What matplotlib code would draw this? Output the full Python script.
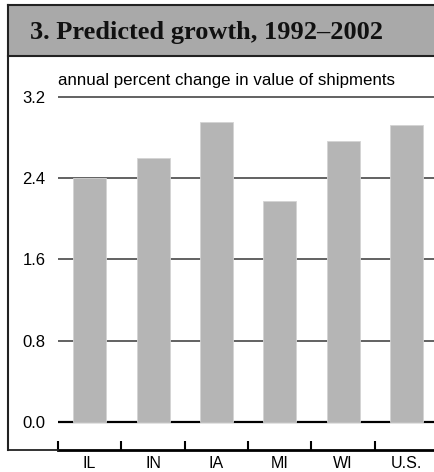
import matplotlib.pyplot as plt
from matplotlib.lines import Line2D
from matplotlib.patches import Rectangle

# data
states = ["IL", "IN", "IA", "MI", "WI", "U.S."]
growth = [2.40, 2.60, 2.95, 2.18, 2.77, 2.92]
yticks = [0.0, 0.8, 1.6, 2.4, 3.2]

W, H = 435, 472
fig = plt.figure(figsize=(W / 100, H / 100), dpi=100)
plt.rcParams['font.family'] = ['Liberation Sans', 'DejaVu Sans']

def fx(px):
    return px / W

def fy(py):
    return 1 - py / H

# plot area: x 58..435 px, y 60..450 px
ax = fig.add_axes([fx(58), fy(450), fx(435) - fx(58), fy(60) - fy(450)])
ax.set_xlim(-0.5, 5.45)
ax.set_ylim(-0.2756, 3.564)

for y in yticks:
    ax.axhline(y, color='black' if y == 0 else '#555555',
               lw=1.6 if y == 0 else 1.3, zorder=1)

ax.bar(range(len(states)), growth, width=0.52, color='#b5b5b5',
       edgecolor='#d4d4d4', linewidth=0.6, zorder=2)

for s in ['top', 'right', 'left']:
    ax.spines[s].set_visible(False)
ax.spines['bottom'].set_linewidth(2.0)

ax.set_yticks(yticks)
ax.set_yticklabels([f"{v:.1f}" for v in yticks], fontsize=12)
ax.tick_params(axis='y', length=0, pad=9)

ax.set_xticks(range(len(states)))
ax.set_xticklabels(states, fontsize=11.5)
ax.tick_params(axis='x', length=0, pad=4)
ax.set_xticks([i - 0.5 for i in range(len(states))], minor=True)
ax.tick_params(axis='x', which='minor', direction='in', length=6.5, width=1.5,
               color='black')

# subtitle just above the 3.2 line
ax.text(-0.5, 3.29, "annual percent change in value of shipments",
        fontsize=12.2, va='bottom')

# frame and title band
fig.patches.append(Rectangle((fx(8), fy(56)), 1 - fx(8), fy(5) - fy(56),
                             transform=fig.transFigure, facecolor='#a9a9a9',
                             edgecolor='none', zorder=0))
fig.lines.append(Line2D([fx(8), 1], [fy(5), fy(5)], transform=fig.transFigure,
                        color='#222222', lw=1.5))
fig.lines.append(Line2D([fx(8), 1], [fy(56), fy(56)], transform=fig.transFigure,
                        color='#222222', lw=1.5))
fig.lines.append(Line2D([fx(8), fx(8)], [fy(5), fy(450)], transform=fig.transFigure,
                        color='#222222', lw=1.5))
fig.lines.append(Line2D([fx(8), fx(58)], [fy(450), fy(450)], transform=fig.transFigure,
                        color='#222222', lw=1.3))

fig.text(fx(30), fy(32), "3. Predicted growth, 1992\u20132002",
         family=['Liberation Serif', 'DejaVu Serif'], fontweight='bold',
         fontsize=19, va='center', ha='left', color='#111111')

fig.savefig("out.png", dpi=100)
